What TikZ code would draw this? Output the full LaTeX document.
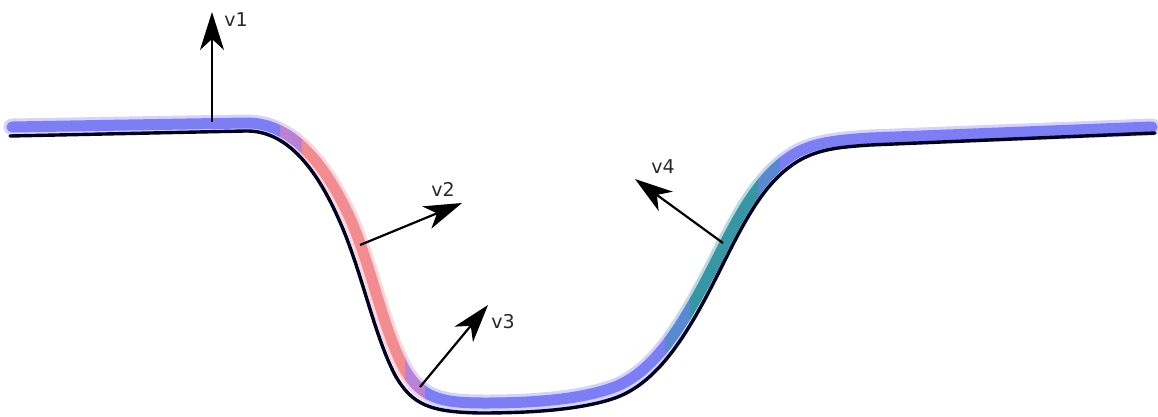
\documentclass[tikz,border=0pt]{standalone}
\usepackage{fontspec}
\setsansfont{DejaVu Sans}
\usetikzlibrary{arrows.meta}
\definecolor{bandblue}{RGB}{108,108,242}
\definecolor{bandpink}{RGB}{240,124,132}
\definecolor{bandteal}{RGB}{28,134,150}
\definecolor{bandpurple}{RGB}{176,112,206}
\definecolor{bandbt}{RGB}{66,120,200}
\definecolor{lblgray}{RGB}{40,40,40}
\begin{document}
\begin{tikzpicture}[x=1pt,y=-1pt,
  vec/.style={line width=2.2pt,-{Stealth[length=38pt,width=24pt,inset=11pt]}},
  lbl/.style={font=\sffamily\fontsize{19}{19}\selectfont,text=lblgray,inner sep=0pt},
  curve/.style={line width=3.4pt,black!88!blue,line cap=round,line join=round},
  bandsoft/.style={line width=17pt,opacity=0.3,line cap=round,line join=round},
  bandcore/.style={line width=11pt,opacity=0.82,line cap=round,line join=round}]
\useasboundingbox (0,0) rectangle (1158,416);
\def\bandpath{(12,127) -- (245,123) .. controls (290,122) and (323,160) .. (350,218) .. controls (372,268) and (383,330) .. (405,370) .. controls (422,398) and (440,403) .. (485,403) .. controls (530,403) and (578,400) .. (612,388) .. controls (655,373) and (684,323) .. (714,265) .. controls (739,215) and (760,174) .. (796,153) .. controls (816,142) and (840,140) .. (870,138) -- (1152,127)}
\newcommand\bandseg[3]{%
  \begin{scope}
    \clip (#2,-20) rectangle (#3,440);
    \draw[bandsoft,#1] \bandpath;
    \draw[bandcore,#1] \bandpath;
  \end{scope}}
\bandseg{bandblue}{0}{280}
\bandseg{bandpurple}{280}{302}
\bandseg{bandpink}{302}{405}
\bandseg{bandpurple}{405}{425}
\bandseg{bandblue}{425}{665}
\bandseg{bandbt}{665}{690}
\bandseg{bandteal}{690}{758}
\bandseg{bandbt}{758}{780}
\bandseg{bandblue}{780}{1158}
\draw[curve] (10,136) -- (245,131) .. controls (285,130) and (315,165) .. (340,222) .. controls (362,272) and (374,335) .. (395,375) .. controls (412,405) and (430,412) .. (480,413) .. controls (530,413) and (580,410) .. (615,398) .. controls (660,382) and (690,330) .. (720,270) .. controls (745,220) and (765,180) .. (800,160) .. controls (820,149) and (840,147) .. (870,145) -- (1155,133);
\coordinate (v1s) at (212,122);
\coordinate (v1e) at (212,12);
\coordinate (v2s) at (360,245);
\coordinate (v2e) at (462,203);
\coordinate (v3s) at (420,387);
\coordinate (v3e) at (488,305);
\coordinate (v4s) at (723,243);
\coordinate (v4e) at (635,179);
\draw[vec] (v1s) -- (v1e);
\draw[vec] (v2s) -- (v2e);
\draw[vec] (v3s) -- (v3e);
\draw[vec] (v4s) -- (v4e);
\node[lbl] (l1) at (236,20) {v1};
\node[lbl] (l2) at (443,189) {v2};
\node[lbl] (l3) at (503,322) {v3};
\node[lbl] (l4) at (663,167) {v4};
\end{tikzpicture}
\end{document}
